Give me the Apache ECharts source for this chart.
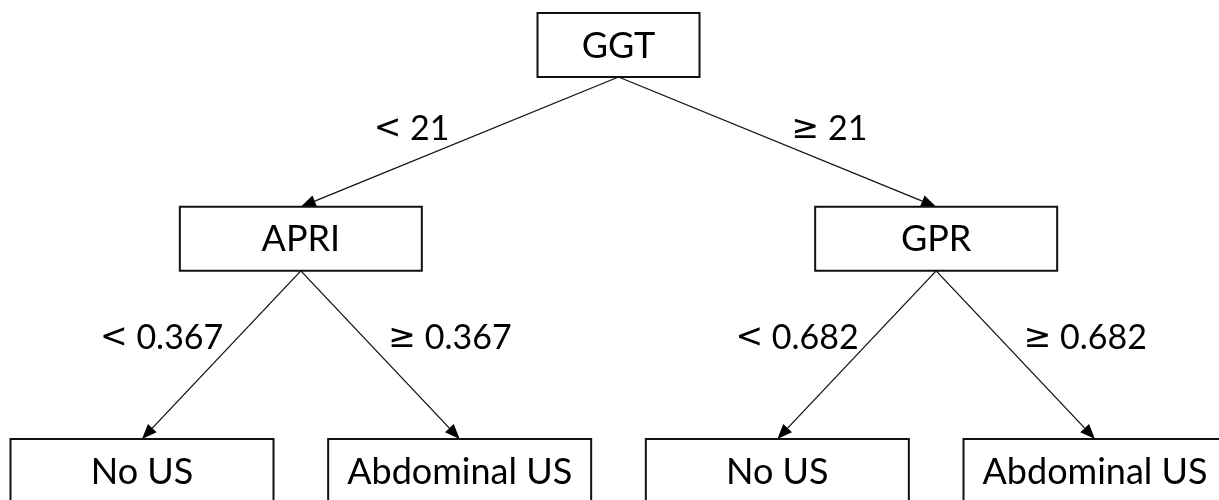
<!DOCTYPE html>
<html>
<head>
<meta charset="utf-8">
<script src="https://cdn.jsdelivr.net/npm/echarts@6/dist/echarts.min.js"></script>
<style>
	html, body{margin: 0;padding: 0;background: #fff;}
	#main{width: 1219px;height: 500px;}
</style>
</head>
<body>
<div id="main"></div>
<script type="text/javascript">
	// tree data: node text, parent index, text on the edge that leads into the node
	var nodeNames = ['GGT', 'APRI', 'GPR', 'No US', 'Abdominal US', 'No US', 'Abdominal US'];
	var nodeParent = [-1, 0, 0, 1, 1, 2, 2];
	var edgeSigns = ['', '<', '\u2265', '<', '\u2265', '<', '\u2265'];
	var edgeValues = ['', '21', '21', '0.367', '0.367', '0.682', '0.682'];

	// layout (not data): row of each depth on the y axis, box sizes per depth
	var rowPos = [0, 0.91, 2];
	var boxW = [162, 242, 263];
	var boxH = 64;
	var labelGap = [[42, 46], [14, 24]];
	var FONT = '36px Lato, "Open Sans", sans-serif';

	// depth and horizontal slot of every node: leaves take slots 0,1,2..., parents sit between children
	var depth = nodeParent.map(function (p, i) {
		var d = 0;
		while (nodeParent[i] >= 0) { i = nodeParent[i]; d++; }
		return d;
	});
	var slot = [];
	var leaf = 0;
	function place(i) {
		var kids = [];
		nodeParent.forEach(function (p, k) { if (p === i) kids.push(k); });
		if (!kids.length) { slot[i] = leaf++; return; }
		kids.forEach(place);
		slot[i] = kids.reduce(function (s, k) { return s + slot[k]; }, 0) / kids.length;
	}
	place(0);

	var nodeData = nodeNames.map(function (n, i) {
		return [slot[i], rowPos[depth[i]], depth[i]];
	});
	var edgeData = [];
	nodeParent.forEach(function (p, i) {
		if (p < 0) return;
		edgeData.push([slot[p], rowPos[depth[p]], slot[i], rowPos[depth[i]], depth[p], i]);
	});

	var myChart = echarts.init(document.getElementById('main'));
	var hidden = {
		axisLine: {show: false},
		axisTick: {show: false},
		axisLabel: {show: false},
		splitLine: {show: false}
	};
	option = {
		animation: false,
		grid: {left: 142, right: 124, top: 45, bottom: 29},
		xAxis: Object.assign({type: 'value', min: 0, max: leaf - 1}, hidden),
		yAxis: Object.assign({type: 'value', min: 0, max: rowPos[rowPos.length - 1], inverse: true}, hidden),
		series: [{
			type: 'custom',
			data: edgeData,
			renderItem: function (params, api) {
				var p = api.coord([api.value(0), api.value(1)]);
				var c = api.coord([api.value(2), api.value(3)]);
				var d = api.value(4);
				var idx = api.value(5);
				var x1 = p[0], y1 = p[1] + boxH / 2;
				var x2 = c[0], y2 = c[1] - boxH / 2;
				var len = Math.sqrt((x2 - x1) * (x2 - x1) + (y2 - y1) * (y2 - y1));
				var ux = (x2 - x1) / len, uy = (y2 - y1) / len;
				var ah = 15, aw = 6;
				var bx = x2 - ux * ah, by = y2 - uy * ah;
				var t = 0.4;
				var lx = x1 + (x2 - x1) * t, ly = y1 + (y2 - y1) * t;
				var left = x2 < x1;
				return {
					type: 'group',
					children: [{
						type: 'line',
						shape: {x1: x1, y1: y1, x2: bx, y2: by},
						style: {stroke: '#111', lineWidth: 1.3}
					}, {
						type: 'polygon',
						shape: {points: [[x2, y2], [bx - uy * aw, by + ux * aw], [bx + uy * aw, by - ux * aw]]},
						style: {fill: '#000'}
					}, {
						type: 'text',
						style: {
							text: '{s|' + edgeSigns[idx] + '}{v|\u00a0' + edgeValues[idx] + '}',
							x: left ? lx - labelGap[d][0] : lx + labelGap[d][1],
							y: ly,
							align: left ? 'right' : 'left',
							verticalAlign: 'middle',
							font: FONT,
							fill: '#000',
							rich: {
								s: {fontFamily: 'DejaVu Sans', fontSize: 33, fill: '#000'},
								v: {fontFamily: 'Lato', fontSize: 34, fill: '#000'}
							}
						}
					}]
				};
			}
		}, {
			type: 'custom',
			data: nodeData,
			renderItem: function (params, api) {
				var c = api.coord([api.value(0), api.value(1)]);
				var w = boxW[api.value(2)];
				return {
					type: 'group',
					children: [{
						type: 'rect',
						shape: {x: c[0] - w / 2, y: c[1] - boxH / 2, width: w, height: boxH},
						style: {fill: '#fff', stroke: '#111', lineWidth: 2}
					}, {
						type: 'text',
						style: {
							text: nodeNames[params.dataIndex],
							x: c[0],
							y: c[1] + 1,
							align: 'center',
							verticalAlign: 'middle',
							font: FONT,
							fill: '#000'
						}
					}]
				};
			}
		}]
	};
	myChart.setOption(option);
</script>
</body>
</html>
